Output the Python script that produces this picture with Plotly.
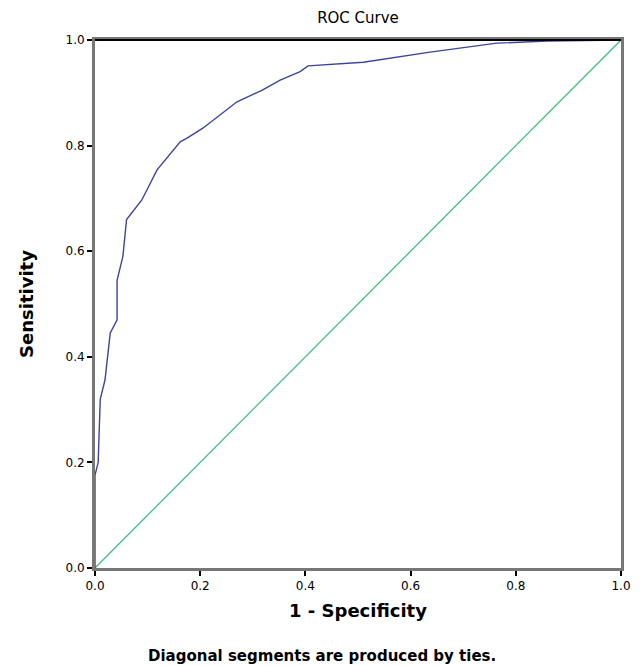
import plotly.graph_objects as go

# ROC curve points (1 - specificity, sensitivity)
fpr = [0.0, 0.0, 0.006, 0.010, 0.019, 0.029, 0.042, 0.042, 0.053, 0.060, 0.089,
       0.108, 0.118, 0.162, 0.175, 0.205, 0.257, 0.270, 0.318, 0.352, 0.390,
       0.405, 0.510, 0.637, 0.764, 0.860, 1.0]
tpr = [0.0, 0.176, 0.200, 0.320, 0.356, 0.445, 0.470, 0.545, 0.590, 0.660, 0.697,
       0.735, 0.754, 0.807, 0.814, 0.833, 0.873, 0.883, 0.905, 0.924, 0.940,
       0.951, 0.958, 0.977, 0.994, 0.998, 1.0]
ref_x = [0.0, 1.0]
ref_y = [0.0, 1.0]
tick_vals = [0.0, 0.2, 0.4, 0.6, 0.8, 1.0]
tick_text = ["0.0", "0.2", "0.4", "0.6", "0.8", "1.0"]

FONT = "DejaVu Sans"

fig = go.Figure()
fig.add_trace(go.Scatter(x=ref_x, y=ref_y, mode="lines",
                         line=dict(color="#3fbf7a", width=1.3), showlegend=False))
fig.add_trace(go.Scatter(x=fpr, y=tpr, mode="lines",
                         line=dict(color="#3c4499", width=1.4), showlegend=False))

axis_common = dict(range=[0, 1], tickvals=tick_vals, ticktext=tick_text,
                   ticks="outside", ticklen=5, tickwidth=1.5, tickcolor="black",
                   showgrid=False, zeroline=False, showline=True,
                   linecolor="#777777", linewidth=3, mirror=True,
                   tickfont=dict(family=FONT, size=12, color="black"))

fig.update_layout(
    width=644, height=666,
    margin=dict(l=95, r=23, t=40, b=98),
    paper_bgcolor="white", plot_bgcolor="white",
    title=dict(text="ROC Curve", x=(95 + 621) / 2 / 644, xanchor="center",
               y=1 - 18 / 666, yanchor="middle",
               font=dict(family=FONT, size=15, color="black")),
    xaxis=dict(axis_common, title=dict(text="<b>1 - Specificity</b>",
                                        font=dict(family=FONT, size=18, color="black"),
                                        standoff=12)),
    yaxis=dict(axis_common, title=dict(text="<b>Sensitivity</b>",
                                        font=dict(family=FONT, size=18, color="black"),
                                        standoff=28)),
    annotations=[dict(text="<b>Diagonal segments are produced by ties.</b>",
                      xref="paper", yref="paper", x=(322 - 95) / 526,
                      y=-(656 - 568) / 528, xanchor="center", yanchor="middle",
                      showarrow=False,
                      font=dict(family=FONT, size=15, color="black"))],
)
# black top frame line
fig.add_shape(type="line", xref="paper", yref="paper", x0=0, x1=1, y0=1, y1=1,
              line=dict(color="black", width=2))

fig.write_html("out.html", config={"displayModeBar": False},
               post_script="document.body.style.margin='0';document.body.style.overflow='hidden';")
